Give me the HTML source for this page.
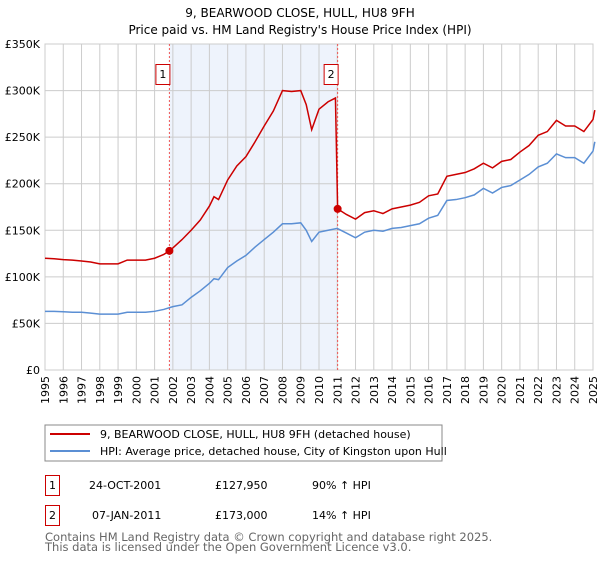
<!DOCTYPE html>
<html><head><meta charset="utf-8"><style>
body{margin:0;background:#fff;font-family:"DejaVu Sans","Liberation Sans",sans-serif;}
svg text{font-family:"DejaVu Sans","Liberation Sans",sans-serif;}
</style></head><body>
<svg id="chart" width="600" height="560" xmlns="http://www.w3.org/2000/svg">
<text x="300" y="17" text-anchor="middle" font-size="12">9, BEARWOOD CLOSE, HULL, HU8 9FH</text>
<text x="300" y="34" text-anchor="middle" font-size="12">Price paid vs. HM Land Registry's House Price Index (HPI)</text>
<g id="plot"></g>
<rect x="45" y="425" width="397" height="36" fill="#fff" stroke="#888"/>
<line x1="50" y1="434" x2="90" y2="434" stroke="#cc0000" stroke-width="2"/>
<text x="100" y="438" font-size="11">9, BEARWOOD CLOSE, HULL, HU8 9FH (detached house)</text>
<line x1="50" y1="451" x2="90" y2="451" stroke="#5b8fd4" stroke-width="2"/>
<text x="100" y="455" font-size="11">HPI: Average price, detached house, City of Kingston upon Hull</text>
<g font-size="11">
<rect x="45.5" y="475.5" width="14" height="20" fill="#fff" stroke="#cc0000"/>
<text x="52.5" y="489" text-anchor="middle">1</text>
<text x="89" y="489">24-OCT-2001</text><text x="215" y="489">£127,950</text><text x="312" y="489">90% ↑ HPI</text>
<rect x="45.5" y="505.5" width="14" height="20" fill="#fff" stroke="#cc0000"/>
<text x="52.5" y="519" text-anchor="middle">2</text>
<text x="92" y="519">07-JAN-2011</text><text x="215" y="519">£173,000</text><text x="312" y="519">14% ↑ HPI</text>
</g>
<text x="45" y="541" font-size="11.5" fill="#666">Contains HM Land Registry data © Crown copyright and database right 2025.</text>
<text x="45" y="551" font-size="11.5" fill="#666">This data is licensed under the Open Government Licence v3.0.</text>
</svg>
<script>
const hpiYears=[1995,1995.5,1996,1996.5,1997,1997.5,1998,1998.5,1999,1999.5,2000,2000.5,2001,2001.5,2002,2002.5,2003,2003.5,2004,2004.25,2004.5,2005,2005.5,2006,2006.5,2007,2007.5,2008,2008.5,2009,2009.3,2009.6,2010,2010.5,2011,2011.5,2012,2012.5,2013,2013.5,2014,2014.5,2015,2015.5,2016,2016.5,2017,2017.5,2018,2018.5,2019,2019.5,2020,2020.5,2021,2021.5,2022,2022.5,2023,2023.5,2024,2024.5,2025,2025.1];
const hpiValues=[63,63,62.5,62,62,61,60,60,60,62,62,62,63,65,68,70,78,85,93,98,97,110,117,123,132,140,148,157,157,158,150,138,148,150,152,147,142,148,150,149,152,153,155,157,163,166,182,183,185,188,195,190,196,198,204,210,218,222,232,228,228,222,235,245];
const saleYears=[2001.81,2011.02];
const saleValues=[127950,173000];
const propYears=[1995,1995.5,1996,1996.5,1997,1997.5,1998,1998.5,1999,1999.5,2000,2000.5,2001,2001.5,2001.81,2002,2002.5,2003,2003.5,2004,2004.25,2004.5,2005,2005.5,2006,2006.5,2007,2007.5,2008,2008.5,2009,2009.3,2009.6,2010,2010.5,2010.9,2011.02,2011.5,2012,2012.5,2013,2013.5,2014,2014.5,2015,2015.5,2016,2016.5,2017,2017.5,2018,2018.5,2019,2019.5,2020,2020.5,2021,2021.5,2022,2022.5,2023,2023.5,2024,2024.5,2025,2025.1];
const propValues=[120,119.5,118.5,118,117,116,114,114,114,118,118,118,120,124,128,131,140,150,161,176,186,183,204,219,229,245,262,278,300,299,300,285,258,280,288,292,173,167,162,169,171,168,173,175,177,180,187,189,208,210,212,216,222,217,224,226,234,241,252,256,268,262,262,256,269,279];
const yTicks=[0,50,100,150,200,250,300,350];
const yTickLabels=["£0","£50K","£100K","£150K","£200K","£250K","£300K","£350K"];
const xTicks=[1995,1996,1997,1998,1999,2000,2001,2002,2003,2004,2005,2006,2007,2008,2009,2010,2011,2012,2013,2014,2015,2016,2017,2018,2019,2020,2021,2022,2023,2024,2025];

const L=45,R=593,T=44,B=370;
const X=v=>L+(v-1995)/(2025-1995)*(R-L);
const Y=v=>B-v/350*(B-T);
const NS="http://www.w3.org/2000/svg";
const g=document.getElementById('plot');
function mk(tag,attrs){const e=document.createElementNS(NS,tag);for(const k in attrs)e.setAttribute(k,attrs[k]);g.appendChild(e);return e;}
let sh=mk('rect',{x:X(saleYears[0]),y:T,width:X(saleYears[1])-X(saleYears[0]),height:B-T,fill:'#eef3fc'});


xTicks.forEach(t=>{let l=mk('line',{x1:X(t),x2:X(t),y1:T,y2:B,stroke:'#ccc'});


let tx=mk('text',{x:0,y:0,'font-size':11,'text-anchor':'end',transform:`translate(${X(t)+4},${B+6}) rotate(-90)`});tx.textContent=t;

});
yTicks.forEach((t,i)=>{let l=mk('line',{x1:L,x2:R,y1:Y(t),y2:Y(t),stroke:'#ccc'});


let tx=mk('text',{x:L-5,y:Y(t)+4,'font-size':11,'text-anchor':'end'});tx.textContent=yTickLabels[i];

});
let ax=mk('rect',{x:L,y:T,width:R-L,height:B-T,fill:'none',stroke:'#ccc'});


saleYears.forEach((s,i)=>{let l=mk('line',{x1:X(s),x2:X(s),y1:T,y2:B,stroke:'#e55','stroke-dasharray':'2,2'});


let r=mk('rect',{x:X(s)-13.5,y:64.5,width:14,height:20,fill:'#fff',stroke:'#cc0000'});


let tx=mk('text',{x:X(s)-6.5,y:78,'font-size':11,'text-anchor':'middle'});tx.textContent=i+1;

});
let hp=mk('polyline',{points:hpiYears.map((y,i)=>X(y)+','+Y(hpiValues[i])).join(' '),fill:'none',stroke:'#5b8fd4','stroke-width':1.5});


let pp=mk('polyline',{points:propYears.map((y,i)=>X(y)+','+Y(propValues[i])).join(' '),fill:'none',stroke:'#cc0000','stroke-width':1.5});


saleYears.forEach((s,i)=>{let c=mk('circle',{cx:X(s),cy:Y(saleValues[i]/1000),r:4,fill:'#cc0000'});

});
</script>
</body></html>
